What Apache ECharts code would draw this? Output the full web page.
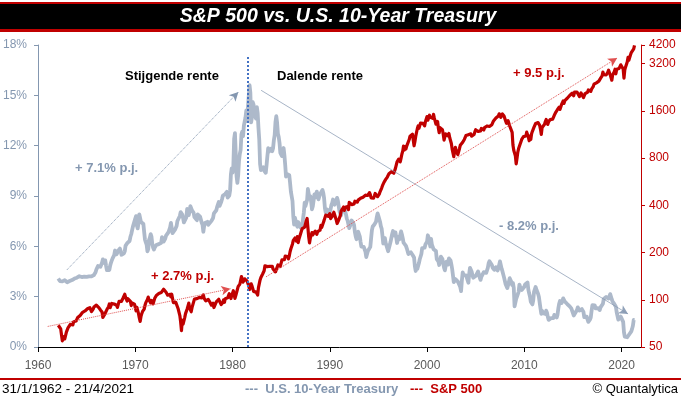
<!DOCTYPE html>
<html>
<head>
<meta charset="utf-8">
<script src="https://cdn.jsdelivr.net/npm/echarts@6/dist/echarts.min.js"></script>
<style>
  html, body { margin: 0; padding: 0; background: #fff; }
  #chart { width: 681px; height: 399px; }
</style>
</head>
<body>
<div id="chart"></div>
<script>
// maandelijkse waarden, eind januari 1962 t/m april 2021
const startYear = 1962;

// U.S. 10-Year Treasury (%)
const treasury = [
  4.08, 4.04, 3.93, 3.84, 3.87, 3.91, 4.01, 3.98, 3.98, 3.93, 3.92, 3.86,
  3.83, 3.92, 3.93, 3.97, 3.93, 3.99, 4.02, 4.00, 4.08, 4.11, 4.12, 4.13,
  4.17, 4.15, 4.22, 4.23, 4.20, 4.17, 4.19, 4.19, 4.20, 4.19, 4.15, 4.18,
  4.19, 4.21, 4.21, 4.20, 4.21, 4.21, 4.20, 4.25, 4.29, 4.35, 4.45, 4.62,
  4.61, 4.83, 4.87, 4.75, 4.78, 4.81, 5.02, 5.22, 5.18, 5.01, 5.16, 4.84,
  4.58, 4.63, 4.54, 4.59, 4.85, 5.02, 5.16, 5.28, 5.30, 5.48, 5.75, 5.70,
  5.53, 5.56, 5.74, 5.64, 5.87, 5.72, 5.50, 5.42, 5.46, 5.58, 5.70, 6.03,
  6.04, 6.19, 6.30, 6.17, 6.32, 6.57, 6.72, 6.69, 7.16, 7.10, 7.14, 7.65,
  7.80, 7.24, 7.07, 7.39, 7.91, 7.84, 7.46, 7.53, 7.39, 7.33, 6.84, 6.39,
  6.24, 6.11, 5.70, 5.83, 6.39, 6.52, 6.73, 6.58, 6.14, 5.93, 5.81, 5.93,
  5.95, 6.08, 6.07, 6.19, 6.13, 6.11, 6.11, 6.21, 6.55, 6.48, 6.28, 6.36,
  6.46, 6.64, 6.71, 6.67, 6.85, 6.90, 7.13, 7.40, 7.09, 6.79, 6.73, 6.74,
  6.99, 6.96, 7.21, 7.51, 7.58, 7.54, 7.81, 8.04, 8.04, 7.90, 7.68, 7.43,
  7.50, 7.39, 7.73, 8.23, 8.06, 7.86, 8.06, 8.40, 8.43, 8.14, 8.05, 8.00,
  7.74, 7.79, 7.73, 7.56, 7.90, 7.86, 7.83, 7.77, 7.59, 7.41, 7.29, 6.87,
  7.21, 7.39, 7.46, 7.37, 7.46, 7.28, 7.33, 7.40, 7.34, 7.52, 7.58, 7.69,
  7.96, 8.03, 8.04, 8.15, 8.35, 8.46, 8.64, 8.41, 8.42, 8.64, 8.81, 9.01,
  9.10, 9.10, 9.12, 9.18, 9.25, 8.91, 8.95, 9.03, 9.33, 10.30, 10.65, 10.39,
  10.80, 12.41, 12.75, 11.47, 10.18, 9.78, 10.25, 11.10, 11.51, 11.75, 12.68, 12.84,
  12.57, 13.19, 13.12, 13.68, 14.10, 13.47, 14.28, 14.94, 15.60, 15.15, 13.39, 13.72,
  14.59, 14.43, 13.86, 13.87, 13.62, 14.30, 13.95, 13.06, 12.34, 10.91, 10.55, 10.54,
  10.46, 10.72, 10.51, 10.40, 10.38, 10.85, 11.38, 11.85, 11.65, 11.54, 11.69, 11.83,
  11.67, 11.84, 12.32, 12.63, 13.41, 13.76, 13.36, 12.72, 12.52, 12.16, 11.57, 11.50,
  11.38, 11.51, 11.86, 11.43, 10.85, 10.16, 10.31, 10.33, 10.37, 10.24, 9.78, 9.26,
  9.19, 8.70, 7.78, 7.30, 7.71, 7.80, 7.30, 7.17, 7.45, 7.43, 7.25, 7.11,
  7.08, 7.25, 7.25, 8.02, 8.61, 8.40, 8.45, 8.76, 9.42, 9.52, 8.86, 8.99,
  8.67, 8.21, 8.37, 8.72, 9.09, 8.92, 9.06, 9.26, 8.98, 8.80, 8.96, 9.11,
  9.09, 9.17, 9.36, 9.18, 8.86, 8.28, 8.02, 8.11, 8.19, 8.01, 7.87, 7.84,
  8.21, 8.47, 8.59, 8.79, 8.76, 8.48, 8.47, 8.75, 8.89, 8.72, 8.39, 8.08,
  8.09, 7.85, 8.11, 8.04, 8.07, 8.28, 8.27, 7.90, 7.65, 7.53, 7.42, 7.09,
  7.03, 7.34, 7.54, 7.48, 7.39, 7.26, 6.84, 6.59, 6.42, 6.59, 6.87, 6.77,
  6.60, 6.26, 5.98, 5.97, 6.04, 5.96, 5.81, 5.68, 5.36, 5.33, 5.72, 5.77,
  5.75, 5.97, 6.48, 6.97, 7.18, 7.10, 7.30, 7.24, 7.46, 7.74, 7.96, 7.81,
  7.78, 7.47, 7.20, 7.06, 6.63, 6.17, 6.28, 6.49, 6.20, 6.04, 5.93, 5.71,
  5.65, 5.81, 6.27, 6.51, 6.74, 6.91, 6.87, 6.64, 6.83, 6.53, 6.20, 6.30,
  6.58, 6.42, 6.69, 6.89, 6.71, 6.49, 6.22, 6.30, 6.21, 6.03, 5.88, 5.81,
  5.54, 5.57, 5.65, 5.64, 5.65, 5.50, 5.46, 5.34, 4.81, 4.53, 4.83, 4.65,
  4.72, 5.00, 5.23, 5.18, 5.54, 5.90, 5.79, 5.94, 5.92, 6.11, 6.03, 6.28,
  6.66, 6.52, 6.26, 5.99, 6.44, 6.10, 6.05, 5.83, 5.80, 5.74, 5.72, 5.24,
  5.16, 5.10, 4.89, 5.14, 5.39, 5.28, 5.24, 4.97, 4.73, 4.57, 4.65, 5.09,
  5.04, 4.91, 5.28, 5.21, 5.16, 4.93, 4.65, 4.26, 3.87, 3.94, 4.05, 4.03,
  4.05, 3.90, 3.81, 3.96, 3.57, 3.33, 3.98, 4.45, 4.27, 4.29, 4.30, 4.27,
  4.15, 4.08, 3.83, 4.35, 4.72, 4.73, 4.50, 4.28, 4.13, 4.10, 4.19, 4.23,
  4.22, 4.17, 4.50, 4.34, 4.14, 4.00, 4.18, 4.26, 4.20, 4.46, 4.54, 4.47,
  4.42, 4.57, 4.72, 4.99, 5.11, 5.11, 5.09, 4.88, 4.72, 4.73, 4.60, 4.56,
  4.76, 4.72, 4.56, 4.69, 4.75, 5.10, 5.00, 4.67, 4.52, 4.53, 4.15, 4.10,
  3.74, 3.74, 3.51, 3.68, 3.88, 4.10, 4.01, 3.89, 3.69, 3.81, 3.53, 2.42,
  2.52, 2.87, 2.82, 2.93, 3.29, 3.72, 3.56, 3.59, 3.40, 3.39, 3.40, 3.59,
  3.73, 3.69, 3.73, 3.85, 3.42, 3.20, 3.01, 2.70, 2.65, 2.54, 2.76, 3.29,
  3.39, 3.58, 3.41, 3.46, 3.17, 3.00, 3.00, 2.30, 1.98, 2.15, 2.01, 1.98,
  1.97, 1.97, 2.17, 2.05, 1.80, 1.62, 1.53, 1.68, 1.72, 1.75, 1.65, 1.72,
  1.91, 1.98, 1.96, 1.76, 1.93, 2.30, 2.58, 2.74, 2.81, 2.62, 2.72, 2.90,
  2.86, 2.71, 2.72, 2.71, 2.56, 2.60, 2.54, 2.42, 2.53, 2.30, 2.33, 2.21,
  1.88, 1.98, 2.04, 1.94, 2.20, 2.36, 2.32, 2.17, 2.17, 2.07, 2.26, 2.24,
  2.09, 1.78, 1.89, 1.81, 1.81, 1.64, 1.50, 1.56, 1.63, 1.76, 2.14, 2.49,
  2.43, 2.42, 2.48, 2.30, 2.30, 2.19, 2.32, 2.21, 2.20, 2.36, 2.35, 2.40,
  2.58, 2.86, 2.84, 2.87, 2.98, 2.91, 2.89, 2.89, 3.00, 3.15, 3.12, 2.83,
  2.71, 2.68, 2.57, 2.53, 2.40, 2.07, 2.06, 1.63, 1.70, 1.71, 1.81, 1.86,
  1.76, 1.50, 0.87, 0.62, 0.67, 0.73, 0.58, 0.65, 0.68, 0.79, 0.87, 0.93,
  1.08, 1.26, 1.61, 1.60
];

// S&P 500 (index, slotkoers per maand)
const sp500 = [
  68.8, 69.96, 69.55, 65.24, 59.63, 54.75, 58.23, 59.12, 56.27, 56.52, 62.26, 63.10,
  66.20, 64.29, 66.57, 69.80, 70.80, 69.37, 69.13, 72.50, 71.70, 74.01, 73.23, 75.02,
  77.04, 77.80, 78.98, 79.46, 80.37, 81.69, 83.18, 81.83, 84.18, 84.86, 84.42, 84.75,
  87.56, 87.43, 86.16, 89.11, 88.42, 84.12, 85.25, 87.17, 89.96, 92.42, 91.61, 92.43,
  92.88, 91.22, 89.23, 91.06, 86.13, 84.74, 83.60, 77.10, 76.56, 80.20, 80.45, 80.33,
  86.61, 86.78, 90.20, 94.01, 89.08, 90.64, 94.75, 93.64, 96.71, 93.90, 94.00, 96.47,
  92.24, 89.36, 90.20, 97.59, 98.68, 99.58, 97.74, 98.86, 102.67, 103.41, 108.37, 103.86,
  103.01, 98.13, 101.51, 103.69, 103.46, 97.71, 91.83, 95.51, 93.12, 97.24, 93.81, 92.06,
  85.02, 89.50, 89.63, 81.52, 76.55, 72.72, 78.05, 81.52, 84.21, 83.25, 87.20, 92.15,
  95.88, 96.75, 100.31, 103.95, 99.63, 99.70, 95.58, 99.03, 98.34, 94.23, 93.99, 102.09,
  103.94, 106.57, 107.20, 107.67, 109.53, 107.14, 107.39, 111.09, 110.55, 111.58, 116.67, 118.05,
  116.03, 111.68, 111.52, 106.97, 104.95, 104.26, 108.22, 104.25, 108.43, 108.29, 95.96, 97.55,
  96.57, 96.22, 93.98, 90.31, 87.28, 86.00, 79.31, 72.15, 63.54, 73.90, 69.97, 68.56,
  76.98, 81.59, 83.36, 87.30, 91.15, 95.19, 88.75, 86.88, 83.87, 89.04, 91.24, 90.19,
  100.86, 99.71, 102.77, 101.64, 100.18, 104.28, 103.44, 102.91, 105.24, 102.90, 102.10, 107.46,
  102.03, 99.82, 98.42, 98.44, 96.12, 100.48, 98.85, 96.77, 96.53, 92.34, 94.83, 95.10,
  89.25, 87.04, 89.21, 96.83, 97.24, 95.53, 100.68, 103.29, 102.54, 93.15, 94.70, 96.11,
  99.93, 96.28, 101.59, 101.76, 99.08, 102.91, 103.81, 109.32, 109.32, 101.82, 106.16, 107.94,
  114.16, 113.66, 102.09, 106.29, 111.24, 114.24, 121.67, 122.38, 125.46, 127.47, 140.52, 135.76,
  129.55, 131.27, 136.00, 132.81, 132.59, 131.21, 130.92, 122.79, 116.18, 121.89, 126.35, 122.55,
  120.40, 113.11, 111.96, 116.44, 111.88, 109.61, 107.09, 119.51, 120.42, 133.71, 138.54, 140.64,
  145.30, 148.06, 152.96, 164.42, 162.39, 168.11, 162.56, 164.40, 166.07, 163.55, 166.40, 164.93,
  163.41, 157.06, 159.18, 160.05, 150.55, 153.18, 150.66, 166.68, 166.10, 166.09, 163.58, 167.24,
  179.63, 181.18, 180.66, 179.83, 189.55, 191.85, 190.92, 188.63, 182.08, 189.82, 202.17, 211.28,
  211.78, 226.92, 238.90, 235.52, 247.35, 250.84, 236.12, 252.93, 231.32, 243.98, 249.22, 242.17,
  274.08, 284.20, 291.70, 288.36, 290.10, 304.00, 318.66, 329.80, 321.83, 251.79, 230.30, 247.08,
  257.07, 267.82, 258.89, 261.33, 262.16, 273.50, 272.02, 261.52, 271.91, 278.97, 273.70, 277.72,
  297.47, 288.86, 294.87, 309.64, 320.52, 317.98, 346.08, 351.45, 349.15, 340.36, 345.99, 353.40,
  329.08, 331.89, 339.94, 330.80, 361.23, 358.02, 356.15, 322.56, 306.05, 304.00, 322.22, 330.22,
  343.93, 367.07, 375.22, 375.34, 389.83, 371.16, 387.81, 395.43, 387.86, 392.46, 375.22, 417.09,
  408.79, 412.70, 403.69, 414.95, 415.35, 408.14, 424.21, 414.03, 417.80, 418.68, 431.35, 435.71,
  438.78, 443.38, 451.67, 440.19, 450.19, 450.53, 448.13, 463.56, 458.93, 467.83, 461.79, 466.45,
  481.61, 467.14, 445.77, 450.91, 456.50, 444.27, 458.26, 475.49, 462.69, 472.35, 453.69, 459.27,
  470.42, 487.39, 500.71, 514.71, 533.40, 544.75, 562.06, 561.88, 584.41, 581.50, 605.37, 615.93,
  636.02, 640.43, 645.50, 654.17, 669.12, 670.63, 639.95, 651.99, 687.31, 705.27, 757.02, 740.74,
  786.16, 790.82, 757.12, 801.34, 848.28, 885.14, 954.29, 899.47, 947.28, 914.62, 955.40, 970.43,
  980.28, 1049.34, 1101.75, 1111.75, 1090.82, 1133.84, 1120.67, 957.28, 1017.01, 1098.67, 1163.63, 1229.23,
  1279.64, 1238.33, 1286.37, 1335.18, 1301.84, 1372.71, 1328.72, 1320.41, 1282.71, 1362.93, 1388.91, 1469.25,
  1394.46, 1366.42, 1498.58, 1452.43, 1420.60, 1454.60, 1430.83, 1517.68, 1436.51, 1429.40, 1314.95, 1320.28,
  1366.01, 1239.94, 1160.33, 1249.46, 1255.82, 1224.42, 1211.23, 1133.58, 1040.94, 1059.78, 1139.45, 1148.08,
  1130.20, 1106.73, 1147.39, 1076.92, 1067.14, 989.82, 911.62, 916.07, 815.28, 885.76, 936.31, 879.82,
  855.70, 841.15, 848.18, 916.92, 963.59, 974.50, 990.31, 1008.01, 995.97, 1050.71, 1058.20, 1111.92,
  1131.13, 1144.94, 1126.21, 1107.30, 1120.68, 1140.84, 1101.72, 1104.24, 1114.58, 1130.20, 1173.82, 1211.92,
  1181.27, 1203.60, 1180.59, 1156.85, 1191.50, 1191.33, 1234.18, 1220.33, 1228.81, 1207.01, 1249.48, 1248.29,
  1280.08, 1280.66, 1294.87, 1310.61, 1270.09, 1270.20, 1276.66, 1303.82, 1335.85, 1377.94, 1400.63, 1418.30,
  1438.24, 1406.82, 1420.86, 1482.37, 1530.62, 1503.35, 1455.27, 1473.99, 1526.75, 1549.38, 1481.14, 1468.36,
  1378.55, 1330.63, 1322.70, 1385.59, 1400.38, 1280.00, 1267.38, 1282.83, 1166.36, 968.75, 896.24, 903.25,
  825.88, 735.09, 797.87, 872.81, 919.14, 919.32, 987.48, 1020.62, 1057.08, 1036.19, 1095.63, 1115.10,
  1073.87, 1104.49, 1169.43, 1186.69, 1089.41, 1030.71, 1101.60, 1049.33, 1141.20, 1183.26, 1180.55, 1257.64,
  1286.12, 1327.22, 1325.83, 1363.61, 1345.20, 1320.64, 1292.28, 1218.89, 1131.42, 1253.30, 1246.96, 1257.60,
  1312.41, 1365.68, 1408.47, 1397.91, 1310.33, 1362.16, 1379.32, 1406.58, 1440.67, 1412.16, 1416.18, 1426.19,
  1498.11, 1514.68, 1569.19, 1597.57, 1630.74, 1606.28, 1685.73, 1632.97, 1681.55, 1756.54, 1805.81, 1848.36,
  1782.59, 1859.45, 1872.34, 1883.95, 1923.57, 1960.23, 1930.67, 2003.37, 1972.29, 2018.05, 2067.56, 2058.90,
  1994.99, 2104.50, 2067.89, 2085.51, 2107.39, 2063.11, 2103.84, 1972.18, 1920.03, 2079.36, 2080.41, 2043.94,
  1940.24, 1932.23, 2059.74, 2065.30, 2096.95, 2098.86, 2173.60, 2170.95, 2168.27, 2126.15, 2198.81, 2238.83,
  2278.87, 2363.64, 2362.72, 2384.20, 2411.80, 2423.41, 2470.30, 2471.65, 2519.36, 2575.26, 2647.58, 2673.61,
  2823.81, 2713.83, 2640.87, 2648.05, 2705.27, 2718.37, 2816.29, 2901.52, 2913.98, 2711.74, 2760.17, 2506.85,
  2704.10, 2784.49, 2834.40, 2945.83, 2752.06, 2941.76, 2980.38, 2926.46, 2976.74, 3037.56, 3140.98, 3230.78,
  3225.52, 2954.22, 2584.59, 2912.43, 3044.31, 3100.29, 3271.12, 3500.31, 3363.00, 3269.96, 3621.63, 3756.07,
  3714.24, 3811.15, 3972.89, 4173.00
];

// trendpijlen: [jaar, waarde] begin en eind
const rateUpArrow = [[1962.96, 4.59], [1980.6, 15.2]];
const rateDownArrow = [[1982.94, 15.3], [2020.67, 1.97]];
const spSlowArrow = [[1961.0, 67.6], [1979.78, 117.5]];
const spFastArrow = [[1983.45, 140], [2019.55, 3473]];
const peakYear = 1981.6;

// rechter as: log2-schaal vanaf 50
const spBase = 50;
const spTop = 4200;
const toLog = v => Math.log2(v / spBase);

const grey = '#8497B0';
const red = '#C00000';
const font = 'Liberation Sans';

const chart = echarts.init(document.getElementById('chart'));

const treasuryData = treasury.map((v, i) => [startYear + (i + 1) / 12, v]);
const spData = sp500.map((v, i) => [startYear + (i + 1) / 12, toLog(v)]);

function arrow(points, logScale, style) {
  const f = logScale ? toLog : (v => v);
  return [
    { coord: [points[0][0], f(points[0][1])], symbol: 'none' },
    { coord: [points[1][0], f(points[1][1])], symbol: 'arrow', symbolSize: [7, 9], lineStyle: style }
  ];
}

// tekst op vaste plek, x/y is het ankerpunt
function text(x, y, str, color, size, weight, align) {
  return {
    type: 'text', x: x, y: y,
    style: {
      text: str, fill: color, font: (weight || 'normal') + ' ' + size + 'px "' + font + '"',
      textAlign: align || 'left', textVerticalAlign: 'middle'
    }
  };
}

const option = {
  animation: false,
  backgroundColor: '#fff',
  grid: { left: 33, right: 40, top: 45, bottom: 52 },
  xAxis: {
    type: 'value', min: 1960, max: 2022, interval: 10,
    axisLine: { lineStyle: { color: '#000', width: 1 } },
    axisTick: { lineStyle: { color: '#000' }, length: 5 },
    axisLabel: { color: '#595959', fontFamily: font, fontSize: 12, margin: 13, showMaxLabel: false, formatter: v => String(v) },
    splitLine: { show: false }
  },
  yAxis: [
    {
      type: 'value', min: 0, max: 18, interval: 3, position: 'left',
      axisLine: { show: true, lineStyle: { color: grey } },
      axisTick: { show: true, length: 4, lineStyle: { color: grey } },
      axisLabel: { color: grey, fontFamily: font, fontSize: 12, margin: 11, formatter: '{value}%' },
      splitLine: { show: false }
    },
    {
      type: 'value', min: 0, max: toLog(spTop), interval: 1, position: 'right',
      axisLine: { show: true, lineStyle: { color: red } },
      axisTick: { show: true, length: 4, lineStyle: { color: red } },
      axisLabel: { color: red, fontFamily: font, fontSize: 12, margin: 8, formatter: v => String(Math.round(spBase * Math.pow(2, v))) },
      splitLine: { show: false }
    }
  ],
  series: [
    {
      name: 'U.S. 10-Year Treasury', type: 'line', yAxisIndex: 0, data: treasuryData,
      showSymbol: false, smooth: false, z: 2,
      lineStyle: { color: '#ADB9CA', width: 3.8, join: 'round' },
      markLine: {
        silent: true, label: { show: false }, symbol: ['none', 'arrow'],
        data: [
          arrow(rateUpArrow, false, { color: grey, type: 'dotted', width: 1 }),
          arrow(rateDownArrow, false, { color: grey, type: 'solid', width: 0.8, opacity: 0.9 }),
          [
            { coord: [peakYear, 0], symbol: 'none' },
            { coord: [peakYear, 17.4], symbol: 'none', lineStyle: { color: '#4472C4', type: 'dotted', width: 2 } }
          ]
        ]
      }
    },
    {
      name: 'S&P 500', type: 'line', yAxisIndex: 1, data: spData,
      showSymbol: false, smooth: false, z: 3,
      lineStyle: { color: red, width: 3.2, join: 'round' },
      markLine: {
        silent: true, label: { show: false }, symbol: ['none', 'arrow'],
        data: [
          arrow(spSlowArrow, true, { color: '#E05050', type: 'dotted', width: 1 }),
          arrow(spFastArrow, true, { color: '#E05050', type: 'dotted', width: 1 })
        ]
      }
    }
  ],
  graphic: [
    { type: 'rect', shape: { x: 0, y: 2, width: 681, height: 30 }, style: { fill: red } },
    { type: 'rect', shape: { x: 0, y: 4, width: 681, height: 25 }, style: { fill: '#000' } },
    text(338, 17, 'S&P 500 vs. U.S. 10-Year Treasury', '#fff', 19.5, 'italic bold', 'center'),
    text(125, 76, 'Stijgende rente', '#000', 13, 'bold'),
    text(277, 76, 'Dalende rente', '#000', 13, 'bold'),
    text(75, 168, '+ 7.1% p.j.', grey, 13, 'bold'),
    text(499, 226, '- 8.2% p.j.', grey, 13, 'bold'),
    text(513, 73, '+ 9.5 p.j.', red, 13, 'bold'),
    text(151, 276, '+ 2.7% p.j.', red, 13, 'bold'),
    { type: 'rect', shape: { x: 0, y: 378, width: 681, height: 2 }, style: { fill: red } },
    text(2, 389, '31/1/1962 - 21/4/2021', '#000', 13.5),
    text(245, 389, '---  U.S. 10-Year Treasury', grey, 13, 'bold'),
    text(410, 389, '---  S&P 500', red, 13, 'bold'),
    text(678, 389, '© Quantalytica', '#000', 13, 'normal', 'right')
  ]
};

chart.setOption(option);
</script>
</body>
</html>
